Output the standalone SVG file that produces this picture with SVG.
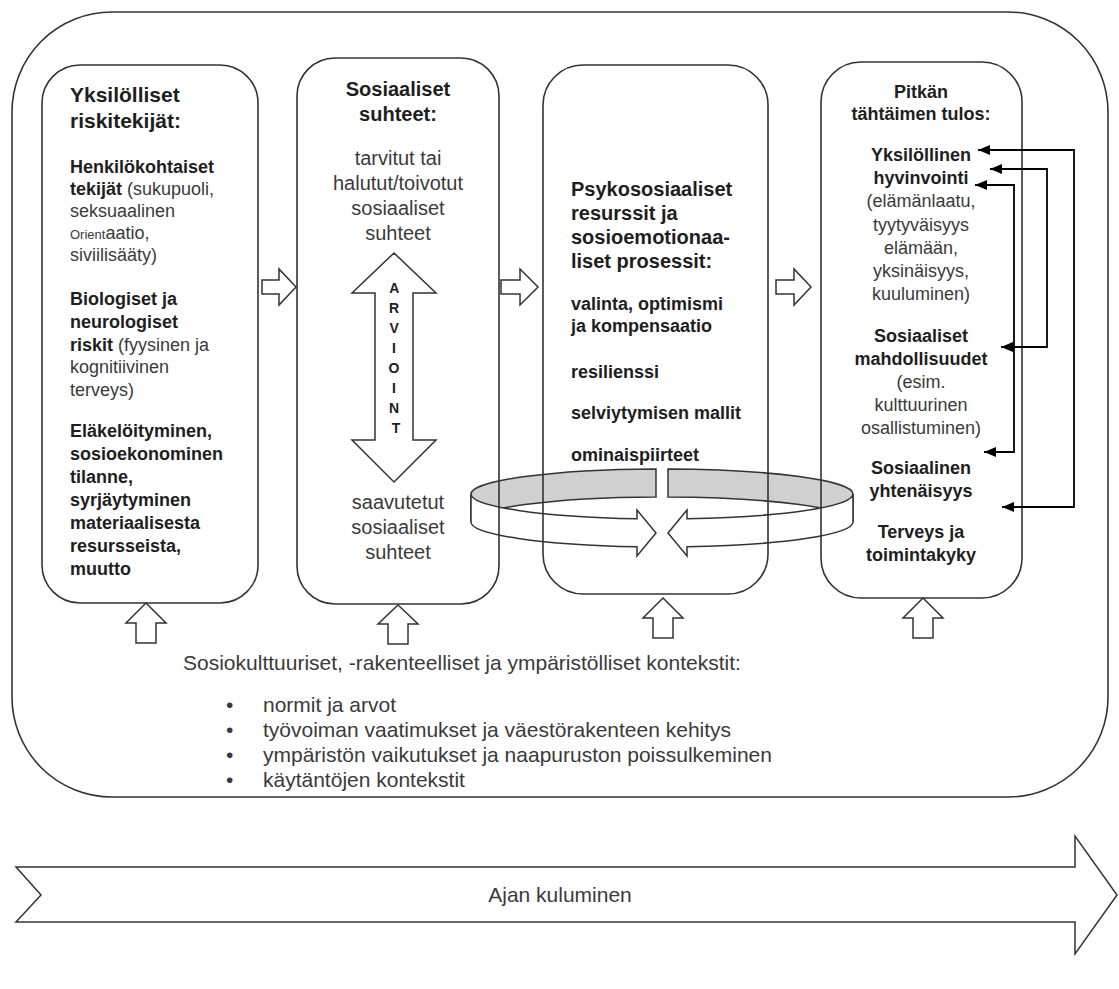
<svg xmlns="http://www.w3.org/2000/svg" width="1119" height="989" viewBox="0 0 1119 989">
<defs>
<style>
.box{fill:none;stroke:#333;stroke-width:1.6}
.blk{fill:#fff;stroke:#333;stroke-width:1.5;stroke-linejoin:miter}
.ring{fill:#d0d0d0;stroke:#333;stroke-width:1.5}
.front{fill:#fff;stroke:#333;stroke-width:1.5;stroke-linejoin:miter}
.fb{fill:none;stroke:#000;stroke-width:1.8}
text{font-family:"Liberation Sans",Arial,sans-serif}
.b{font-weight:bold;fill:#1e1e1e}
.r{fill:#3a3a3a;font-weight:normal}
.s18{font-size:18px}
.s20{font-size:20px}
.s21{font-size:21px}
.mid{text-anchor:middle}
</style>
<marker id="ah" viewBox="0 0 12 10" refX="12" refY="5" markerWidth="12" markerHeight="10" markerUnits="userSpaceOnUse" orient="auto-start-reverse">
<path d="M0,0 L12,5 L0,10 Z" fill="#000"/>
</marker>
</defs>
<rect width="1119" height="989" fill="#fff"/>

<g id="outer">
<rect class="box" x="12" y="12" width="1096" height="785" rx="100" ry="100"/>
</g>

<g id="ring">
<path class="ring" d="M656,469 A191,25 0 0 0 471,494 L471,522 A191,25 0 0 1 656,497 Z"/>
<path class="ring" d="M668,469 A191,25 0 0 1 853,494 L853,522 A191,25 0 0 0 668,497 Z"/>
<path class="front" d="M471,494 A191,25 0 0 0 637,518.8 L637,510 L656,533 L637,556 L637,546.8 A191,25 0 0 1 471,522 Z"/>
<path class="front" d="M853,494 A191,25 0 0 1 687,518.8 L687,510 L668,533 L687,556 L687,546.8 A191,25 0 0 0 853,522 Z"/>
</g>

<g id="box1">
<rect class="box" x="42" y="65" width="216" height="538" rx="38" ry="38"/>
<text class="b s21" x="70" y="102">Yksilölliset</text>
<text class="b s21" x="70" y="128">riskitekijät:</text>
<text class="b s18" x="70" y="173">Henkilökohtaiset</text>
<text class="b s18" x="70" y="195">tekijät<tspan class="r"> (sukupuoli,</tspan></text>
<text class="r s18" x="70" y="217">seksuaalinen</text>
<text class="r s18" x="70" y="239"><tspan font-size="13">Orient</tspan>aatio,</text>
<text class="r s18" x="70" y="261">siviilisääty)</text>
<text class="b s18" x="70" y="305">Biologiset ja</text>
<text class="b s18" x="70" y="328">neurologiset</text>
<text class="b s18" x="70" y="351">riskit<tspan class="r"> (fyysinen ja</tspan></text>
<text class="r s18" x="70" y="373">kognitiivinen</text>
<text class="r s18" x="70" y="396">terveys)</text>
<text class="b s18" x="70" y="437">Eläkelöityminen,</text>
<text class="b s18" x="70" y="460">sosioekonominen</text>
<text class="b s18" x="70" y="483">tilanne,</text>
<text class="b s18" x="70" y="506">syrjäytyminen</text>
<text class="b s18" x="70" y="529">materiaalisesta</text>
<text class="b s18" x="70" y="552">resursseista,</text>
<text class="b s18" x="70" y="575">muutto</text>
</g>

<g id="box2">
<rect class="box" x="297" y="58" width="202" height="546" rx="38" ry="38"/>
<text class="b s20 mid" x="398" y="96">Sosiaaliset</text>
<text class="b s20 mid" x="398" y="121">suhteet:</text>
<text class="r s20 mid" x="398" y="165">tarvitut tai</text>
<text class="r s20 mid" x="398" y="190">halutut/toivotut</text>
<text class="r s20 mid" x="398" y="215">sosiaaliset</text>
<text class="r s20 mid" x="398" y="240">suhteet</text>
<text class="r s20 mid" x="398" y="509">saavutetut</text>
<text class="r s20 mid" x="398" y="534">sosiaaliset</text>
<text class="r s20 mid" x="398" y="559">suhteet</text>
</g>

<g id="arviointi">
<path class="blk" d="M394,253 L436,293 L413,293 L413,440 L436,440 L394,482 L352,440 L375,440 L375,293 L352,293 Z"/>
<text class="b mid" font-size="14" x="396">
<tspan x="396" y="293">A</tspan>
<tspan x="396" y="313">R</tspan>
<tspan x="396" y="333">V</tspan>
<tspan x="396" y="353">I</tspan>
<tspan x="396" y="373">O</tspan>
<tspan x="396" y="393">I</tspan>
<tspan x="396" y="413">N</tspan>
<tspan x="396" y="433">T</tspan>
</text>
</g>

<g id="box3">
<rect class="box" x="543" y="65" width="225" height="529" rx="40" ry="40"/>
<text class="b s20" x="571" y="196">Psykososiaaliset</text>
<text class="b s20" x="571" y="220">resurssit ja</text>
<text class="b s20" x="571" y="244">sosioemotionaa-</text>
<text class="b s20" x="571" y="268">liset prosessit:</text>
<text class="b s18" x="571" y="310">valinta, optimismi</text>
<text class="b s18" x="571" y="332">ja kompensaatio</text>
<text class="b s18" x="571" y="378">resilienssi</text>
<text class="b s18" x="571" y="419">selviytymisen mallit</text>
<text class="b s18" x="571" y="461">ominaispiirteet</text>
</g>

<g id="box4">
<rect class="box" x="821" y="62" width="201" height="536" rx="40" ry="40"/>
<text class="b s18 mid" x="921" y="98">Pitkän</text>
<text class="b s18 mid" x="921" y="120">tähtäimen tulos:</text>
<text class="b s18 mid" x="921" y="161">Yksilöllinen</text>
<text class="b s18 mid" x="921" y="184">hyvinvointi</text>
<text class="r s18 mid" x="921" y="207">(elämänlaatu,</text>
<text class="r s18 mid" x="921" y="231">tyytyväisyys</text>
<text class="r s18 mid" x="921" y="254">elämään,</text>
<text class="r s18 mid" x="921" y="277">yksinäisyys,</text>
<text class="r s18 mid" x="921" y="300">kuuluminen)</text>
<text class="b s18 mid" x="921" y="342">Sosiaaliset</text>
<text class="b s18 mid" x="921" y="365">mahdollisuudet</text>
<text class="r s18 mid" x="921" y="388">(esim.</text>
<text class="r s18 mid" x="921" y="411">kulttuurinen</text>
<text class="r s18 mid" x="921" y="434">osallistuminen)</text>
<text class="b s18 mid" x="921" y="474">Sosiaalinen</text>
<text class="b s18 mid" x="921" y="497">yhtenäisyys</text>
<text class="b s18 mid" x="921" y="538">Terveys ja</text>
<text class="b s18 mid" x="921" y="561">toimintakyky</text>
</g>

<g id="connectors">
<path class="blk" d="M262,280 L279,280 L279,269 L296,287 L279,305 L279,294 L262,294 Z"/>
<path class="blk" d="M501,280 L520,280 L520,269 L538,287 L520,305 L520,294 L501,294 Z"/>
<path class="blk" d="M776,280 L794,280 L794,269 L811,287 L794,305 L794,294 L776,294 Z"/>
<path class="blk" d="M146,603 L166,623 L156,623 L156,643 L136,643 L136,623 L126,623 Z"/>
<path class="blk" d="M398,605 L418,624 L408,624 L408,644 L388,644 L388,624 L378,624 Z"/>
<path class="blk" d="M663,598 L683,618 L673,618 L673,638 L653,638 L653,618 L643,618 Z"/>
<path class="blk" d="M923,598 L943,618 L933,618 L933,638 L913,638 L913,618 L903,618 Z"/>
<polyline class="fb" points="1002,507 1074,507 1074,150 978,150" marker-start="url(#ah)" marker-end="url(#ah)"/>
<polyline class="fb" points="1001,347 1047,347 1047,169 990,169" marker-start="url(#ah)" marker-end="url(#ah)"/>
<polyline class="fb" points="984,452 1014,452 1014,185 975,185" marker-start="url(#ah)" marker-end="url(#ah)"/>
</g>

<g id="context">
<text class="r s21" x="183" y="670">Sosiokulttuuriset, -rakenteelliset ja ympäristölliset kontekstit:</text>
<text class="r s21" x="226" y="712">•</text>
<text class="r s21" x="263" y="712">normit ja arvot</text>
<text class="r s21" x="226" y="737">•</text>
<text class="r s21" x="263" y="737">työvoiman vaatimukset ja väestörakenteen kehitys</text>
<text class="r s21" x="226" y="762">•</text>
<text class="r s21" x="263" y="762">ympäristön vaikutukset ja naapuruston poissulkeminen</text>
<text class="r s21" x="226" y="787">•</text>
<text class="r s21" x="263" y="787">käytäntöjen kontekstit</text>
</g>

<g id="time">
<path class="blk" d="M16,867 L1075,867 L1075,836 L1117,895 L1075,954 L1075,922 L16,922 L41,895 Z"/>
<text class="r s21 mid" x="560" y="902">Ajan kuluminen</text>
</g>
</svg>
